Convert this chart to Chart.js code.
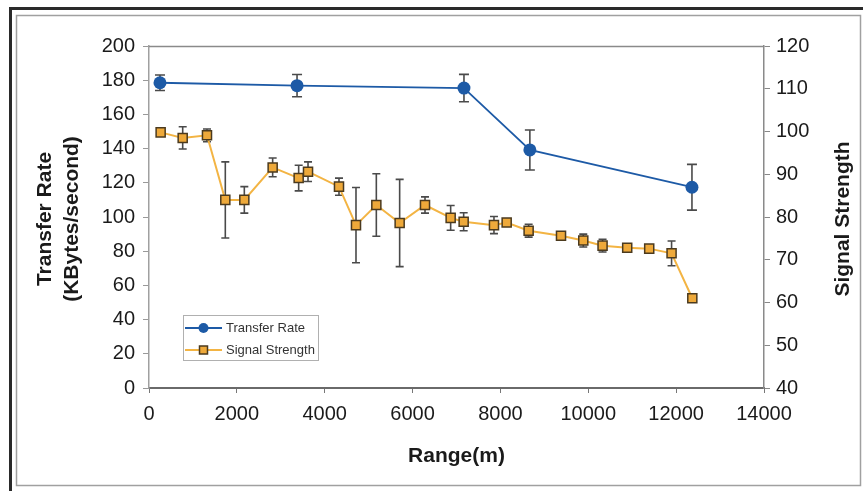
<!DOCTYPE html>
<html>
<head>
<meta charset="utf-8">
<script src="https://cdn.jsdelivr.net/npm/chart.js@4/dist/chart.umd.min.js"></script>
<style>
  html, body { margin: 0; padding: 0; background: #fff; }
  #c { display: block; }
</style>
</head>
<body>
<canvas id="c" width="863" height="491"></canvas>
<script>
// ---- data ----
const rateRange = [250, 3370, 7170, 8670, 12360];
const rateValues = [178.5, 176.8, 175.4, 139.2, 117.4];
const rateErrors = [4.5, 6.5, 8, 11.7, 13.4];

const signalRange = [265, 767, 1320, 1737, 2170, 2815, 3407, 3620, 4325, 4712, 5175, 5706, 6283, 6867, 7163, 7853, 8142, 8642, 9379, 9886, 10325, 10886, 11387, 11896, 12368];
const signalValues = [99.8, 98.5, 99.1, 84.0, 84.0, 91.6, 89.1, 90.6, 87.1, 78.1, 82.8, 78.6, 82.8, 79.8, 78.9, 78.1, 78.7, 76.8, 75.6, 74.5, 73.3, 72.8, 72.6, 71.5, 61.0];
const signalErrors = [0, 2.6, 1.5, 8.9, 3.1, 2.2, 3.0, 2.3, 2.0, 8.8, 7.3, 10.2, 1.9, 2.9, 2.1, 2.0, 0.8, 1.5, 0, 1.5, 1.5, 0, 0.7, 2.9, 0];

const seriesNames = ["Transfer Rate", "Signal Strength"];
const xTitle = "Range(m)";
const yTitleLines = ["Transfer Rate", "(KBytes/second)"];
const y1Title = "Signal Strength";

const FONT = "'Liberation Sans', Arial, sans-serif";
const BLUE = "#1d5aa6";
const ORANGE = "#f3b443";
const SQFILL = "#eea93a";
const SQEDGE = "#4b3a1e";

const toXY = (xs, ys) => xs.map((x, i) => ({ x: x, y: ys[i] }));

// ---- plugins ----
const framePlugin = {
  id: 'frame',
  beforeDraw(chart) {
    const ctx = chart.ctx;
    ctx.save();
    ctx.fillStyle = '#fff';
    ctx.fillRect(0, 0, chart.width, chart.height);
    ctx.strokeStyle = '#2a2a2a';
    ctx.lineWidth = 3;
    ctx.beginPath();
    ctx.moveTo(10.5, 491); ctx.lineTo(10.5, 8.5); ctx.lineTo(863, 8.5);
    ctx.stroke();
    ctx.strokeStyle = '#a0a0a0';
    ctx.lineWidth = 1.5;
    ctx.strokeRect(16.5, 15.5, 844, 470);
    ctx.restore();
  },
  afterDraw(chart) {
    const ctx = chart.ctx;
    const a = chart.chartArea;
    ctx.save();
    // top border of plot
    ctx.strokeStyle = '#8a8a8a';
    ctx.lineWidth = 1.5;
    ctx.beginPath();
    ctx.moveTo(a.left, a.top + 0.5); ctx.lineTo(a.right, a.top + 0.5);
    ctx.stroke();
    // titles
    ctx.fillStyle = '#1a1a1a';
    ctx.font = "bold 21px " + FONT;
    ctx.textAlign = 'center';
    ctx.textBaseline = 'middle';
    ctx.fillText(xTitle, (a.left + a.right) / 2, 456);
    const cy = (a.top + a.bottom) / 2 + 2;
    ctx.save();
    ctx.translate(45, cy);
    ctx.rotate(-Math.PI / 2);
    ctx.fillText(yTitleLines[0], 0, 0);
    ctx.restore();
    ctx.save();
    ctx.translate(72, cy);
    ctx.rotate(-Math.PI / 2);
    ctx.fillText(yTitleLines[1], 0, 0);
    ctx.restore();
    ctx.save();
    ctx.translate(843, cy);
    ctx.rotate(-Math.PI / 2);
    ctx.fillText(y1Title, 0, 0);
    ctx.restore();
    // legend
    ctx.strokeStyle = '#b0b0b0';
    ctx.lineWidth = 1;
    ctx.strokeRect(183.5, 315.5, 135, 45);
    ctx.font = "13px " + FONT;
    ctx.textAlign = 'left';
    ctx.fillStyle = '#333';
    // transfer rate
    ctx.strokeStyle = BLUE; ctx.lineWidth = 2;
    ctx.beginPath(); ctx.moveTo(185, 328); ctx.lineTo(222, 328); ctx.stroke();
    ctx.fillStyle = BLUE;
    ctx.beginPath(); ctx.arc(203.5, 328, 5, 0, Math.PI * 2); ctx.fill();
    ctx.fillStyle = '#333';
    ctx.fillText(seriesNames[0], 226, 328);
    // signal
    ctx.strokeStyle = ORANGE; ctx.lineWidth = 2;
    ctx.beginPath(); ctx.moveTo(185, 350); ctx.lineTo(222, 350); ctx.stroke();
    ctx.fillStyle = SQFILL; ctx.fillRect(199.5, 346, 8, 8);
    ctx.strokeStyle = SQEDGE; ctx.lineWidth = 1.5; ctx.strokeRect(199.5, 346, 8, 8);
    ctx.fillStyle = '#333';
    ctx.fillText(seriesNames[1], 226, 350);
    ctx.restore();
  }
};

const errorBarPlugin = {
  id: 'errorbars',
  beforeDatasetsDraw(chart) {
    const ctx = chart.ctx;
    ctx.save();
    ctx.strokeStyle = '#4a4a4a';
    ctx.lineWidth = 1.6;
    chart.data.datasets.forEach((ds, di) => {
      const ys = chart.scales[ds.yAxisID];
      const xs = chart.scales.x;
      const errs = ds.errors;
      const cap = ds.capHalf;
      ds.data.forEach((p, i) => {
        const e = errs[i];
        if (!e) return;
        const px = xs.getPixelForValue(p.x);
        const top = ys.getPixelForValue(p.y + e);
        const bot = ys.getPixelForValue(p.y - e);
        ctx.beginPath();
        ctx.moveTo(px, top); ctx.lineTo(px, bot);
        ctx.moveTo(px - cap, top); ctx.lineTo(px + cap, top);
        ctx.moveTo(px - cap, bot); ctx.lineTo(px + cap, bot);
        ctx.stroke();
      });
    });
    ctx.restore();
  }
};

const plain = (v) => String(v);

new Chart(document.getElementById('c'), {
  type: 'line',
  data: {
    datasets: [
      {
        label: seriesNames[0],
        data: toXY(rateRange, rateValues),
        errors: rateErrors,
        capHalf: 5,
        yAxisID: 'y',
        borderColor: BLUE,
        backgroundColor: BLUE,
        borderWidth: 1.8,
        pointStyle: 'circle',
        pointRadius: 6.5,
        pointBackgroundColor: BLUE,
        pointBorderColor: BLUE,
        pointBorderWidth: 0,
        tension: 0
      },
      {
        label: seriesNames[1],
        data: toXY(signalRange, signalValues),
        errors: signalErrors,
        capHalf: 4,
        yAxisID: 'y1',
        borderColor: ORANGE,
        backgroundColor: SQFILL,
        borderWidth: 2,
        pointStyle: 'rect',
        pointRadius: 6.4,
        pointBackgroundColor: SQFILL,
        pointBorderColor: SQEDGE,
        pointBorderWidth: 1.5,
        tension: 0
      }
    ]
  },
  options: {
    responsive: false,
    animation: false,
    devicePixelRatio: 1,
    layout: { padding: { left: 0, right: 0, top: 46, bottom: 0 } },
    plugins: {
      legend: { display: false },
      tooltip: { enabled: false },
      title: { display: false }
    },
    scales: {
      x: {
        type: 'linear',
        min: 0, max: 14000,
        ticks: { stepSize: 2000, color: '#1a1a1a', font: { family: FONT, size: 20 }, padding: 9, maxRotation: 0, callback: plain },
        grid: { drawOnChartArea: false, drawTicks: true, tickLength: 5, color: '#777' },
        border: { display: true, color: '#6a6a6a', width: 2 },
        afterFit(s) { s.height = 103; }
      },
      y: {
        position: 'left',
        min: 0, max: 200,
        ticks: { stepSize: 20, color: '#1a1a1a', font: { family: FONT, size: 20 }, padding: 8, callback: plain },
        grid: { drawOnChartArea: false, tickLength: 6, color: '#999' },
        border: { display: true, color: '#a0a0a0', width: 1.5 },
        afterFit(s) { s.width = 149; }
      },
      y1: {
        position: 'right',
        min: 40, max: 120,
        ticks: { stepSize: 10, color: '#1a1a1a', font: { family: FONT, size: 20 }, padding: 6, callback: plain },
        grid: { drawOnChartArea: false, tickLength: 6, color: '#888' },
        border: { display: true, color: '#8a8a8a', width: 1.5 },
        afterFit(s) { s.width = 99; }
      }
    }
  },
  plugins: [framePlugin, errorBarPlugin]
});
</script>
</body>
</html>
